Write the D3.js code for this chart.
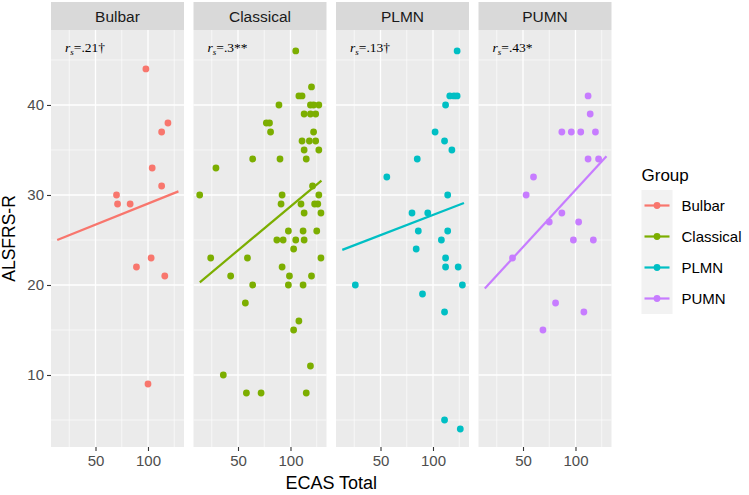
<!DOCTYPE html>
<html><head><meta charset="utf-8">
<script src="https://cdn.jsdelivr.net/npm/d3@7"></script>
<style>
html,body{margin:0;padding:0;background:#fff;}
svg{display:block;font-family:"Liberation Sans",Arial,sans-serif;}
</style></head>
<body><svg id="chart" width="749" height="495"></svg>
<script>
// ---------- data ----------
const groups = ["Bulbar", "Classical", "PLMN", "PUMN"];
const groupColors = ["#F8766D", "#7CAE00", "#00BFC4", "#C77CFF"];

const bulbarX = [98, 119, 113, 104, 113, 70, 71, 83, 89, 103, 116, 100];
const bulbarY = [44, 38, 37, 33, 31, 30, 29, 29, 22, 23, 21, 9];

const classicalX = [105, 120, 108, 111, 89, 119, 122, 127, 113, 119, 124, 77, 80, 81, 122, 111, 118, 124, 113, 127,
  64, 90, 115, 29, 13.5, 92, 121, 127, 91, 110, 123, 126, 113, 129, 98, 112, 125, 87, 93, 105, 113, 103,
  24, 59, 129, 92, 43, 99, 120, 64, 98, 112, 57, 108, 103, 119, 36, 58, 72, 115];
const classicalY = [46, 42, 41, 41, 40, 40, 40, 40, 39, 39, 39, 38, 38, 37, 37, 36, 36, 36, 35, 35,
  34, 34, 34, 33, 30, 30, 31, 30, 29, 29, 29, 29, 28, 28, 26, 26, 26, 25, 25, 25, 25, 24,
  23, 23, 23, 22, 21, 21, 21, 20, 20, 20, 18, 16, 15, 11, 10, 8, 8, 8];

const plmnX = [123, 116, 120, 123, 112, 102, 111, 118, 85, 56, 114, 80, 95, 86, 114, 108, 84, 112, 112, 124, 26, 128, 90, 111, 111, 126];
const plmnY = [46, 41, 41, 41, 40, 37, 36, 35, 34, 32, 30, 28, 28, 26, 26, 25, 24, 23, 22, 22, 20, 20, 19, 17, 5, 4];

const pumnX = [112, 114, 87, 96, 105, 119, 112, 122, 60, 53, 87, 75, 103, 98, 117, 40, 81, 108, 69];
const pumnY = [41, 39, 37, 37, 37, 37, 34, 34, 32, 30, 28, 27, 27, 25, 25, 23, 18, 17, 15];

// fitted regression line (value at start and end of the fitted range)
const fitX0 = [13.5, 13.6, 13.6, 13.6];
const fitX1 = [129, 129.5, 129.5, 129.5];
const fitY0 = [25.0, 20.3, 23.9, 19.6];
const fitY1 = [30.4, 31.6, 29.1, 34.3];

const rsValues = ["=.21\u2020", "=.3**", "=.13\u2020", "=.43*"];
const rsPosX = 21;
const rsPosY = 46.4;

const xMajorTicks = [50, 100];
const xMinorTicks = [25, 75, 125];
const yMajorTicks = [10, 20, 30, 40];
const yMinorTicks = [5, 15, 25, 35, 45];

const xLabel = "ECAS Total";
const yLabel = "ALSFRS-R";
const legendTitle = "Group";

const seriesX = [bulbarX, classicalX, plmnX, pumnX];
const seriesY = [bulbarY, classicalY, plmnY, pumnY];

// ---------- layout ----------
const svg = d3.select("#chart");
const panelW = 133, panelStep = 142.5, panelLeft0 = 51;
const stripTop = 2, panelTop = 30, panelBottom = 447;

const y = d3.scaleLinear().domain([2, 48.33]).range([panelBottom, panelTop]);

groups.forEach((g, i) => {
  const left = panelLeft0 + i * panelStep;
  const x = d3.scaleLinear().domain([7.6, 134.3]).range([left, left + panelW]);
  const gp = svg.append("g");

  // strip
  gp.append("rect").attr("x", left).attr("y", stripTop).attr("width", panelW)
    .attr("height", panelTop - stripTop).attr("fill", "#d9d9d9");
  gp.append("text").attr("x", left + panelW / 2).attr("y", (stripTop + panelTop) / 2)
    .attr("dy", "0.36em").attr("text-anchor", "middle").attr("font-size", 15.5)
    .attr("fill", "#1a1a1a").text(g);

  // panel background
  gp.append("rect").attr("x", left).attr("y", panelTop).attr("width", panelW)
    .attr("height", panelBottom - panelTop).attr("fill", "#ebebeb");

  // grid
  gp.selectAll(".ymin").data(yMinorTicks).join("line")
    .attr("x1", left).attr("x2", left + panelW).attr("y1", d => y(d)).attr("y2", d => y(d))
    .attr("stroke", "#fff").attr("stroke-width", 0.6);
  gp.selectAll(".xmin").data(xMinorTicks).join("line")
    .attr("y1", panelTop).attr("y2", panelBottom).attr("x1", d => x(d)).attr("x2", d => x(d))
    .attr("stroke", "#fff").attr("stroke-width", 0.6);
  gp.selectAll(".ymaj").data(yMajorTicks).join("line")
    .attr("x1", left).attr("x2", left + panelW).attr("y1", d => y(d)).attr("y2", d => y(d))
    .attr("stroke", "#fff").attr("stroke-width", 1.3);
  gp.selectAll(".xmaj").data(xMajorTicks).join("line")
    .attr("y1", panelTop).attr("y2", panelBottom).attr("x1", d => x(d)).attr("x2", d => x(d))
    .attr("stroke", "#fff").attr("stroke-width", 1.3);

  // points
  const pts = seriesX[i].map((v, k) => [v, seriesY[i][k]]);
  gp.selectAll("circle.pt").data(pts).join("circle")
    .attr("cx", d => x(d[0])).attr("cy", d => y(d[1])).attr("r", 3.4)
    .attr("fill", groupColors[i]);

  // fit line
  gp.append("line")
    .attr("x1", x(fitX0[i])).attr("y1", y(fitY0[i]))
    .attr("x2", x(fitX1[i])).attr("y2", y(fitY1[i]))
    .attr("stroke", groupColors[i]).attr("stroke-width", 2.2);

  // r_s annotation
  const t = gp.append("text").attr("x", x(rsPosX)).attr("y", y(rsPosY))
    .attr("dy", "0.35em").attr("font-family", "'Liberation Serif','Times New Roman',serif")
    .attr("font-size", 13.5).attr("fill", "#000");
  t.append("tspan").attr("font-style", "italic").text("r");
  t.append("tspan").attr("font-style", "italic").attr("font-size", 9).attr("dy", 3).text("s");
  t.append("tspan").attr("dy", -3).text(rsValues[i]);

  // x axis
  const xa = gp.append("g").attr("transform", `translate(0,${panelBottom})`)
    .call(d3.axisBottom(x).tickValues(xMajorTicks).tickSize(4).tickPadding(4).tickFormat(d3.format("d")));
  xa.select(".domain").remove();
  xa.selectAll("line").attr("stroke", "#333").attr("stroke-width", 1.1);
  xa.selectAll("text").attr("font-size", 15).attr("fill", "#4d4d4d")
    .attr("font-family", "'Liberation Sans',Arial,sans-serif");

  if (i === 0) {
    const ya = gp.append("g").attr("transform", `translate(${left},0)`)
      .call(d3.axisLeft(y).tickValues(yMajorTicks).tickSize(4).tickPadding(3).tickFormat(d3.format("d")));
    ya.select(".domain").remove();
    ya.selectAll("line").attr("stroke", "#333").attr("stroke-width", 1.1);
    ya.selectAll("text").attr("font-size", 15).attr("fill", "#4d4d4d")
      .attr("font-family", "'Liberation Sans',Arial,sans-serif");
  }
});

// axis titles
const plotRight = panelLeft0 + 3 * panelStep + panelW;
svg.append("text").attr("x", (panelLeft0 + plotRight) / 2).attr("y", 489)
  .attr("text-anchor", "middle").attr("font-size", 18).attr("fill", "#000").text(xLabel);
svg.append("text").attr("transform", `translate(15,${(panelTop + panelBottom) / 2}) rotate(-90)`)
  .attr("text-anchor", "middle").attr("font-size", 17.5).attr("fill", "#000").text(yLabel);

// legend
const keyX = 641.5, keyW = 31, keyH = 31, keyTop = 190;
const leg = svg.append("g");
leg.append("text").attr("x", keyX).attr("y", keyTop - 9).attr("font-size", 17)
  .attr("fill", "#000").text(legendTitle);
groups.forEach((g, i) => {
  const cy = keyTop + i * keyH + keyH / 2;
  leg.append("rect").attr("x", keyX).attr("y", keyTop + i * keyH).attr("width", keyW)
    .attr("height", keyH).attr("fill", "#f2f2f2");
  leg.append("line").attr("x1", keyX + 3).attr("x2", keyX + keyW - 3).attr("y1", cy).attr("y2", cy)
    .attr("stroke", groupColors[i]).attr("stroke-width", 2.2);
  leg.append("circle").attr("cx", keyX + keyW / 2).attr("cy", cy).attr("r", 3.4).attr("fill", groupColors[i]);
  leg.append("text").attr("x", keyX + keyW + 9).attr("y", cy).attr("dy", "0.36em")
    .attr("font-size", 15).attr("fill", "#000").text(g);
});
</script></body></html>
